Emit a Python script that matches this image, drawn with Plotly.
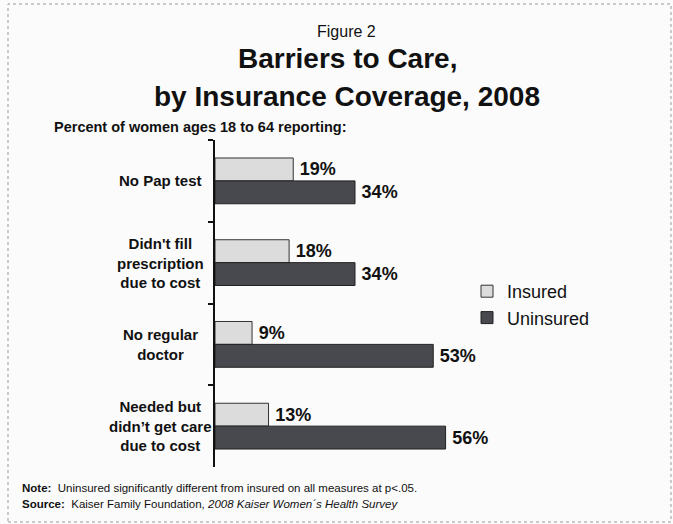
import plotly.graph_objects as go

categories = ["No Pap test", "Didn't fill<br>prescription<br>due to cost", "No regular<br>doctor", "Needed but<br>didn’t get care<br>due to cost"]
insured = [19, 18, 9, 13]
uninsured = [34, 34, 53, 56]
series_names = ["Insured", "Uninsured"]

W, H = 673, 524
L, R, T, B = 215, 213, 140, 57
plot_w = W - L - R
px_per = (355 - 215) / 34.0
xmax = plot_w / px_per
FONT = "Liberation Sans"
GAP = "\u2009"

fig = go.Figure()
fig.add_trace(go.Bar(
    y=categories, x=insured, orientation="h", name=series_names[0],
    marker=dict(color="#dcdcdc", line=dict(color="#333333", width=1)),
    text=[f"<b>{GAP}{v}%</b>" for v in insured], textposition="outside", cliponaxis=False,
    textfont=dict(family=FONT, size=18, color="#111111"),
))
fig.add_trace(go.Bar(
    y=categories, x=uninsured, orientation="h", name=series_names[1],
    marker=dict(color="#48484f", line=dict(color="#222222", width=1)),
    text=[f"<b>{GAP}{v}%</b>" for v in uninsured], textposition="outside", cliponaxis=False,
    textfont=dict(family=FONT, size=18, color="#111111"),
))


def pxx(x):
    return (x - L) / plot_w


def pxy(y):
    return 1 - (y - T) / (H - T - B)


ann = []
for c in categories:
    ann.append(dict(x=pxx(160), xref="paper", y=c, yref="y", text=f"<b>{c}</b>",
                    showarrow=False, xanchor="center", yanchor="middle", align="center",
                    font=dict(family=FONT, size=15, color="#111111")))

ann += [
    dict(x=pxx(346), xref="paper", y=pxy(31), yref="paper", text="Figure 2", showarrow=False,
         xanchor="center", yanchor="middle", font=dict(family=FONT, size=16, color="#111")),
    dict(x=pxx(347), xref="paper", y=pxy(58), yref="paper", text="<b>Barriers to Care,</b>", showarrow=False,
         xanchor="center", yanchor="middle", font=dict(family=FONT, size=28, color="#111")),
    dict(x=pxx(347), xref="paper", y=pxy(96), yref="paper", text="<b>by Insurance Coverage, 2008</b>", showarrow=False,
         xanchor="center", yanchor="middle", font=dict(family=FONT, size=28, color="#111")),
    dict(x=pxx(52), xref="paper", y=pxy(127), yref="paper", text="<b>Percent of women ages 18 to 64 reporting:</b>",
         showarrow=False, xanchor="left", yanchor="middle", font=dict(family=FONT, size=14.5, color="#111")),
    dict(x=pxx(20), xref="paper", y=pxy(488), yref="paper",
         text="<b>Note:</b>  Uninsured significantly different from insured on all measures at p<.05.",
         showarrow=False, xanchor="left", yanchor="middle", font=dict(family=FONT, size=11.5, color="#111")),
    dict(x=pxx(20), xref="paper", y=pxy(504), yref="paper",
         text="<b>Source:</b>  Kaiser Family Foundation, <i>2008 Kaiser Women´s Health Survey</i>",
         showarrow=False, xanchor="left", yanchor="middle", font=dict(family=FONT, size=11.5, color="#111")),
]

fig.update_layout(
    width=W, height=H, margin=dict(l=L, r=R, t=T, b=B),
    paper_bgcolor="#fbfbfb", plot_bgcolor="rgba(0,0,0,0)",
    barmode="group", bargap=0.44, bargroupgap=0,
    showlegend=True,
    legend=dict(x=pxx(467), y=pxy(273), xanchor="left", yanchor="top", xref="paper", yref="paper",
                bgcolor="rgba(0,0,0,0)", font=dict(family=FONT, size=18, color="#111"),
                tracegroupgap=0),
    xaxis=dict(range=[0, xmax], visible=False, fixedrange=True),
    yaxis=dict(autorange="reversed", showticklabels=False, ticks="outside", tickson="boundaries",
               ticklen=5, tickcolor="#111", tickwidth=1.5, showline=True, linecolor="#111", linewidth=1.5,
               showgrid=False, zeroline=False),
    annotations=ann,
    shapes=[dict(type="rect", xref="paper", yref="paper", x0=pxx(8), x1=pxx(671), y0=pxy(522), y1=pxy(4),
                 line=dict(color="#999999", width=1, dash="dot"))],
)

fig.write_html("out.html")
